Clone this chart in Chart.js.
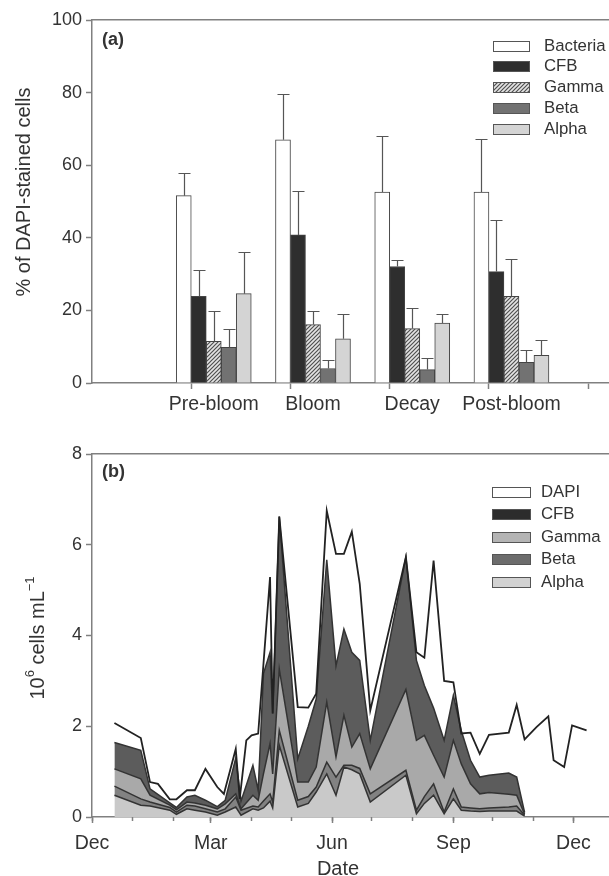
<!DOCTYPE html>
<html>
<head>
<meta charset="utf-8">
<script src="https://cdn.jsdelivr.net/npm/chart.js@4.4.0/dist/chart.umd.min.js"></script>
<style>
  html, body { margin: 0; padding: 0; background: #fff; }
  body { width: 609px; height: 876px; position: relative; overflow: hidden; }
  canvas { position: absolute; left: 0; }
  #chartA { top: 0; }
  #chartB { top: 430px; }
</style>
</head>
<body>
<canvas id="chartA" width="609" height="430"></canvas>
<canvas id="chartB" width="609" height="446"></canvas>
<script>
// ---- (a) % of DAPI-stained cells per bloom phase (mean + SD) ----
var phases = ['Pre-bloom', 'Bloom', 'Decay', 'Post-bloom'];
var probes = ['Bacteria', 'CFB', 'Gamma', 'Beta', 'Alpha'];
var bacteriaPct = [51.6, 67.0, 52.6, 52.6];
var cfbPct = [23.9, 40.8, 32.1, 30.7];
var gammaPct = [11.5, 16.1, 15.0, 23.9];
var betaPct = [9.8, 4.0, 3.7, 5.7];
var alphaPct = [24.6, 12.2, 16.5, 7.6];
var bacteriaSd = [6.2, 12.6, 15.5, 14.6];
var cfbSd = [7.1, 12.2, 1.7, 14.1];
var gammaSd = [8.2, 3.6, 5.6, 10.3];
var betaSd = [5.1, 2.2, 3.2, 3.3];
var alphaSd = [11.5, 6.9, 2.6, 4.3];
var pctTicks = [0, 20, 40, 60, 80, 100];

// ---- (b) cell numbers, 10^6 cells per mL; days counted from 1 December ----
var dapiDays = [17, 37, 44, 50, 59, 64, 72, 78, 86, 95, 100, 109, 112, 117, 121, 126, 135, 137, 142, 156,
  164, 170, 178, 185, 191, 197, 203, 211, 238, 246, 252, 259, 267, 274, 280, 287, 294, 301, 316, 322,
  328, 337, 346, 350, 358, 364, 375];
var dapiCells = [2.07, 1.74, 0.77, 0.73, 0.39, 0.39, 0.59, 0.59, 1.06, 0.66, 0.51, 1.50, 0.40, 1.69, 1.80, 1.84, 5.29, 2.28, 6.62, 2.42,
  2.41, 2.72, 6.75, 5.80, 5.80, 6.29, 5.14, 2.35, 5.73, 3.63, 3.51, 5.65, 3.00, 2.97, 1.84, 1.86, 1.39, 1.81, 1.86, 2.47,
  1.71, 1.98, 2.22, 1.25, 1.10, 2.02, 1.91];
var probeDays = [17, 37, 44, 59, 64, 72, 78, 86, 95, 101, 109, 113, 122, 126, 130, 135, 137, 142, 156, 164,
  170, 178, 185, 191, 197, 203, 211, 238, 246, 252, 259, 267, 274, 280, 287, 294, 301, 316, 322, 328];
var alphaCells = [0.48, 0.26, 0.24, 0.15, 0.06, 0.18, 0.15, 0.11, 0.04, 0.11, 0.22, 0.04, 0.18, 0.15, 0.20, 0.35, 0.20, 1.58, 0.22, 0.30,
  0.55, 0.95, 0.48, 1.10, 1.04, 0.95, 0.33, 0.92, 0.07, 0.30, 0.48, 0.07, 0.40, 0.15, 0.13, 0.12, 0.13, 0.13, 0.13, 0.02];
var betaCells = [0.20, 0.14, 0.09, 0.06, 0.05, 0.08, 0.09, 0.07, 0.07, 0.07, 0.22, 0.11, 0.06, 0.07, 0.15, 0.16, 0.13, 0.33, 0.15, 0.15,
  0.11, 0.26, 0.40, 0.04, 0.10, 0.12, 0.18, 0.11, 0.08, 0.15, 0.25, 0.04, 0.22, 0.07, 0.07, 0.06, 0.07, 0.09, 0.11, 0.02];
var gammaCells = [0.38, 0.44, 0.15, 0.05, 0.05, 0.07, 0.07, 0.08, 0.07, 0.11, 0.07, 0.03, 0.24, 0.15, 0.60, 1.11, 0.62, 1.35, 0.40, 0.32,
  0.44, 1.32, 0.44, 1.10, 0.40, 0.77, 0.55, 1.78, 1.54, 1.35, 0.63, 0.77, 1.07, 0.95, 0.53, 0.33, 0.34, 0.28, 0.24, 0.02];
var cfbCells = [0.58, 0.63, 0.14, 0.05, 0.05, 0.11, 0.17, 0.11, 0.05, 0.08, 0.79, 0.17, 0.66, 0.22, 2.21, 2.01, 1.33, 3.36, 0.51, 1.23,
  1.50, 3.14, 2.01, 1.90, 2.09, 1.61, 0.63, 2.92, 1.76, 1.10, 1.04, 0.81, 0.99, 0.73, 0.52, 0.37, 0.38, 0.47, 0.40, 0.04];
var monthStartDays = [0, 31, 62, 90, 121, 151, 182, 212, 243, 274, 304, 335, 365];
var dateTickDays = [0, 90, 182, 274, 365];
var dateTickLabels = ['Dec', 'Mar', 'Jun', 'Sep', 'Dec'];
var cellTicks = [0, 2, 4, 6, 8];

// ---- styling ----
var FONT = "'Liberation Sans', Arial, Helvetica, sans-serif";
var textColor = '#333';
var axisGrey = '#808080';
var edgeGrey = '#444';
var groupShift = 0.227;   // bars start just left of each phase tick

Chart.defaults.font.family = FONT;
Chart.defaults.color = textColor;

function hatchPattern() {
  var c = document.createElement('canvas');
  c.width = 4; c.height = 4;
  var g = c.getContext('2d');
  g.fillStyle = '#e4e4e4';
  g.fillRect(0, 0, 4, 4);
  g.strokeStyle = '#505050';
  g.lineWidth = 1.2;
  g.beginPath();
  g.moveTo(0, 4); g.lineTo(4, 0);
  g.moveTo(-1, 1); g.lineTo(1, -1);
  g.moveTo(3, 5); g.lineTo(5, 3);
  g.stroke();
  return g.createPattern(c, 'repeat');
}

function onlyIntegerTicks(ctx) {
  return ctx.tick && Number.isInteger(ctx.tick.value) ? axisGrey : 'rgba(0,0,0,0)';
}

var errorBars = {
  id: 'errorBars',
  afterDatasetsDraw: function(chart) {
    var ctx = chart.ctx, y = chart.scales.y;
    ctx.save();
    ctx.strokeStyle = '#555';
    ctx.lineWidth = 1.2;
    chart.data.datasets.forEach(function(ds, di) {
      chart.getDatasetMeta(di).data.forEach(function(bar, i) {
        var top = Math.round(y.getPixelForValue(ds.data[i].y + ds.errors[i])) + 0.5;
        var x = Math.round(bar.x) + 0.5;
        ctx.beginPath();
        ctx.moveTo(x, bar.y);
        ctx.lineTo(x, top);
        ctx.moveTo(x - 6, top);
        ctx.lineTo(x + 6, top);
        ctx.stroke();
      });
    });
    ctx.restore();
  }
};

var boxLegend = {
  id: 'boxLegend',
  afterDraw: function(chart, args, o) {
    var ctx = chart.ctx;
    ctx.save();
    ctx.font = o.size + 'px ' + FONT;
    ctx.textBaseline = 'middle';
    o.order.forEach(function(di, row) {
      var ds = chart.data.datasets[di];
      var cy = o.y + row * o.step;
      var top = Math.round(cy - o.boxH / 2);
      ctx.fillStyle = ds.legendFill;
      ctx.fillRect(o.x, top, o.boxW, o.boxH);
      ctx.strokeStyle = '#555';
      ctx.lineWidth = 1;
      ctx.strokeRect(o.x + 0.5, top + 0.5, o.boxW - 1, o.boxH - 1);
      ctx.fillStyle = textColor;
      ctx.fillText(ds.label, o.textX, cy);
    });
    ctx.restore();
  }
};

var panelText = {
  id: 'panelText',
  afterDraw: function(chart, args, o) {
    var ctx = chart.ctx;
    ctx.save();
    ctx.fillStyle = textColor;
    ctx.textBaseline = 'alphabetic';
    ctx.font = 'bold 18px ' + FONT;
    ctx.fillText(o.letter, o.letterX, o.letterY);

    // rotated y title, made of normal and superscript pieces
    var parts = o.yTitle, size = o.titleSize, supSize = Math.round(size * 0.65);
    var widths = parts.map(function(p) {
      ctx.font = (p.sup ? supSize : size) + 'px ' + FONT;
      return ctx.measureText(p.text).width;
    });
    var total = widths.reduce(function(a, b) { return a + b; }, 0);
    ctx.translate(o.yTitleX, o.yTitleY);
    ctx.rotate(-Math.PI / 2);
    ctx.textBaseline = 'middle';
    var x = -total / 2;
    parts.forEach(function(p, i) {
      ctx.font = (p.sup ? supSize : size) + 'px ' + FONT;
      ctx.fillText(p.text, x, p.sup ? -size * 0.38 : 0);
      x += widths[i];
    });
    ctx.setTransform(1, 0, 0, 1, 0, 0);
    if (o.xTitle) {
      ctx.textAlign = 'center';
      ctx.textBaseline = 'alphabetic';
      ctx.font = o.titleSize + 'px ' + FONT;
      ctx.fillText(o.xTitle, o.xTitleX, o.xTitleY);
    }
    ctx.restore();
  }
};

// ---------- chart (a) ----------
var pctSeries = [bacteriaPct, cfbPct, gammaPct, betaPct, alphaPct];
var sdSeries = [bacteriaSd, cfbSd, gammaSd, betaSd, alphaSd];
var hatch = hatchPattern();
var barFills = ['#ffffff', '#2e2e2e', hatch, '#727272', '#d4d4d4'];
var groupCentres = phases.map(function(p, i) { return i + 1 + groupShift; });
var maxPhaseX = 5.21;

new Chart(document.getElementById('chartA'), {
  type: 'bar',
  data: {
    datasets: probes.map(function(name, k) {
      return {
        label: name,
        data: groupCentres.map(function(x, i) { return { x: x, y: pctSeries[k][i] }; }),
        errors: sdSeries[k],
        backgroundColor: barFills[k],
        legendFill: barFills[k],
        borderColor: edgeGrey,
        borderWidth: 1,
        barThickness: 15
      };
    })
  },
  options: {
    responsive: false,
    animation: false,
    devicePixelRatio: 1,
    layout: { padding: 0 },
    plugins: {
      legend: { display: false },
      tooltip: { enabled: false },
      boxLegend: { x: 493, textX: 544, y: 46, step: 20.8, boxW: 37, boxH: 11, size: 16.8, order: [0, 1, 2, 3, 4] },
      panelText: {
        letter: '(a)', letterX: 102, letterY: 45,
        yTitle: [{ text: '% of DAPI-stained cells' }], yTitleX: 24, yTitleY: 192, titleSize: 20
      }
    },
    scales: {
      x: {
        type: 'linear', min: 0, max: maxPhaseX, offset: false,
        afterBuildTicks: function(s) {
          s.ticks = [1, 2, 3, 4, 5].concat(groupCentres).sort(function(a, b) { return a - b; })
            .map(function(v) { return { value: v }; });
        },
        afterFit: function(s) { s.height = 47; },
        grid: { drawOnChartArea: false, offset: false, tickLength: 6, tickWidth: 1.5, tickColor: onlyIntegerTicks },
        border: { color: axisGrey, width: 1.5 },
        ticks: {
          autoSkip: false, maxRotation: 0, padding: 4, font: { size: 19.5 },
          callback: function(v) {
            var i = groupCentres.findIndex(function(c) { return Math.abs(c - v) < 1e-6; });
            return i < 0 ? '' : phases[i];
          }
        }
      },
      xTop: {
        type: 'linear', position: 'top', min: 0, max: maxPhaseX,
        afterFit: function(s) { s.height = 20; },
        grid: { drawOnChartArea: false, drawTicks: false },
        border: { color: axisGrey, width: 1.5 },
        ticks: { display: false }
      },
      y: {
        min: 0, max: 100,
        afterBuildTicks: function(s) { s.ticks = pctTicks.map(function(v) { return { value: v }; }); },
        afterFit: function(s) { s.width = 92; },
        grid: { drawOnChartArea: false, tickLength: 6, tickWidth: 1.5, tickColor: axisGrey },
        border: { color: axisGrey, width: 1.5 },
        ticks: { padding: 4, font: { size: 18 } }
      }
    }
  },
  plugins: [errorBars, boxLegend, panelText]
});

// ---------- chart (b) ----------
function points(days, vals) {
  return days.map(function(d, i) { return { x: d, y: vals[i] }; });
}
var maxDay = 392;
var areaLine = { borderColor: '#333', borderWidth: 1.5, pointRadius: 0, tension: 0, stack: 'probes' };

new Chart(document.getElementById('chartB'), {
  type: 'line',
  data: {
    datasets: [
      { label: 'DAPI', data: points(dapiDays, dapiCells), borderColor: '#222', borderWidth: 1.8,
        pointRadius: 0, tension: 0, fill: false, stack: 'dapi', legendFill: '#ffffff' },
      Object.assign({ label: 'Alpha', data: points(probeDays, alphaCells), fill: 'origin',
        backgroundColor: '#c9c9c9', legendFill: '#d2d2d2' }, areaLine),
      Object.assign({ label: 'Beta', data: points(probeDays, betaCells), fill: 1,
        backgroundColor: '#828282', legendFill: '#6c6c6c' }, areaLine),
      Object.assign({ label: 'Gamma', data: points(probeDays, gammaCells), fill: 2,
        backgroundColor: '#a9a9a9', legendFill: '#b4b4b4' }, areaLine),
      Object.assign({ label: 'CFB', data: points(probeDays, cfbCells), fill: 3,
        backgroundColor: '#5c5c5c', legendFill: '#2c2c2c' }, areaLine)
    ]
  },
  options: {
    responsive: false,
    animation: false,
    devicePixelRatio: 1,
    layout: { padding: 0 },
    plugins: {
      legend: { display: false },
      tooltip: { enabled: false },
      boxLegend: { x: 492, textX: 541, y: 62, step: 22.5, boxW: 39, boxH: 11, size: 16.8, order: [0, 4, 3, 2, 1] },
      panelText: {
        letter: '(b)', letterX: 102, letterY: 47,
        yTitle: [{ text: '10' }, { text: '6', sup: true }, { text: ' cells mL' }, { text: '\u22121', sup: true }],
        yTitleX: 38, yTitleY: 208, titleSize: 20,
        xTitle: 'Date', xTitleX: 338, xTitleY: 445
      }
    },
    scales: {
      xMinor: {
        type: 'linear', position: 'bottom', weight: 0, min: 0, max: maxDay,
        afterBuildTicks: function(s) { s.ticks = monthStartDays.map(function(v) { return { value: v }; }); },
        afterFit: function(s) { s.height = 0; },
        grid: { drawOnChartArea: false, tickLength: 4, tickWidth: 1.5, tickColor: axisGrey },
        border: { display: false },
        ticks: { display: false }
      },
      x: {
        type: 'linear', position: 'bottom', weight: 1, min: 0, max: maxDay,
        afterBuildTicks: function(s) { s.ticks = dateTickDays.map(function(v) { return { value: v }; }); },
        afterFit: function(s) { s.height = 59; },
        grid: { drawOnChartArea: false, tickLength: 6, tickWidth: 1.5, tickColor: axisGrey },
        border: { color: axisGrey, width: 1.5 },
        ticks: {
          autoSkip: false, maxRotation: 0, padding: 9, font: { size: 19.5 },
          callback: function(v) { return dateTickLabels[dateTickDays.indexOf(v)]; }
        }
      },
      xTop: {
        type: 'linear', position: 'top', min: 0, max: maxDay,
        afterFit: function(s) { s.height = 24; },
        grid: { drawOnChartArea: false, drawTicks: false },
        border: { color: axisGrey, width: 1.5 },
        ticks: { display: false }
      },
      y: {
        stacked: true, min: 0, max: 8,
        afterBuildTicks: function(s) { s.ticks = cellTicks.map(function(v) { return { value: v }; }); },
        afterFit: function(s) { s.width = 92; },
        grid: { drawOnChartArea: false, tickLength: 6, tickWidth: 1.5, tickColor: axisGrey },
        border: { color: axisGrey, width: 1.5 },
        ticks: { padding: 4, font: { size: 18 } }
      }
    }
  },
  plugins: [boxLegend, panelText]
});
</script>
</body>
</html>
